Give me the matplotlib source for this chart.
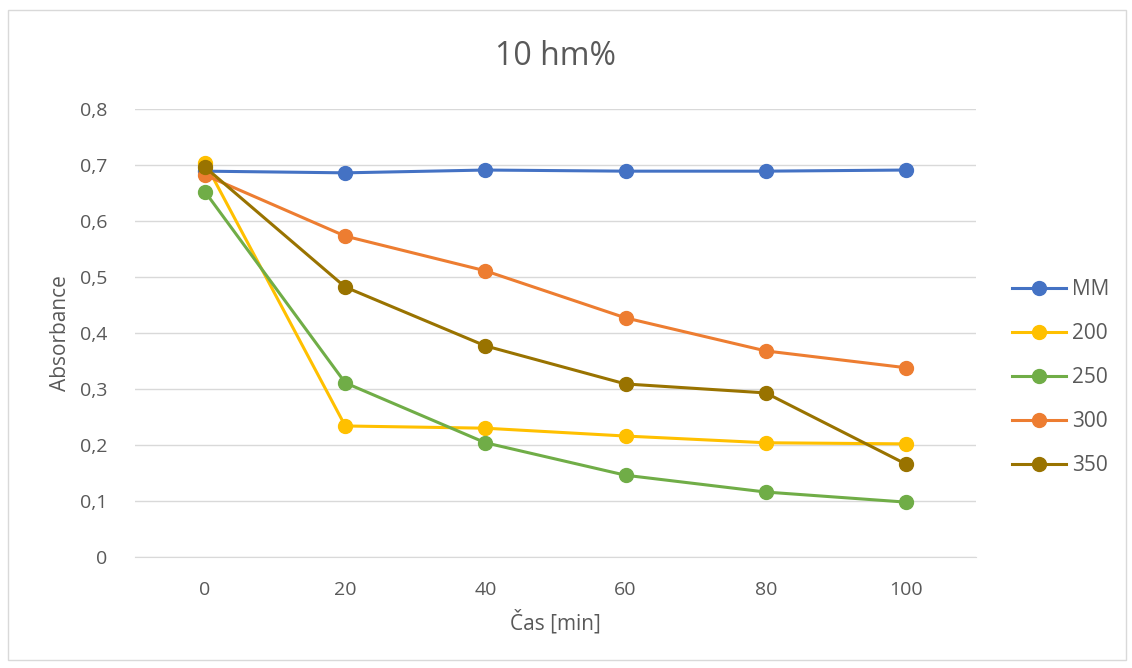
import matplotlib.pyplot as plt
from matplotlib.patches import Rectangle
from matplotlib.ticker import FuncFormatter

plt.rcParams['font.family'] = ['Open Sans', 'DejaVu Sans']

# Data
cas = ['0', '20', '40', '60', '80', '100']
mm = [0.689, 0.686, 0.691, 0.689, 0.689, 0.691]
s200 = [0.704, 0.234, 0.230, 0.216, 0.204, 0.202]
s250 = [0.652, 0.311, 0.204, 0.146, 0.116, 0.098]
s300 = [0.682, 0.573, 0.511, 0.427, 0.368, 0.338]
s350 = [0.696, 0.482, 0.377, 0.309, 0.293, 0.166]

series = [
    ('MM', mm, '#4472C4'),
    ('200', s200, '#FFC000'),
    ('250', s250, '#70AD47'),
    ('300', s300, '#ED7D31'),
    ('350', s350, '#997300'),
]

text_col = '#595959'

fig = plt.figure(figsize=(11.32, 6.68), dpi=100)
fig.patches.append(Rectangle((8 / 1132, 1 - 660 / 668), 1118 / 1132, 650 / 668,
                             transform=fig.transFigure, fill=False,
                             edgecolor='#D9D9D9', linewidth=1))

ax = fig.add_axes([135 / 1132, 1 - 557 / 668, 841 / 1132, 448 / 668])
x = list(range(len(cas)))
for nome, vals, cor in series:
    ax.plot(x, vals, color=cor, linewidth=2.2, marker='o', markersize=10, label=nome)

ax.set_xlim(-0.5, len(cas) - 0.5)
ax.set_ylim(0, 0.8)
ax.set_xticks(x)
ax.set_xticklabels(cas)
ax.set_yticks([i / 10 for i in range(9)])
ax.yaxis.set_major_formatter(FuncFormatter(lambda v, p: '0' if v == 0 else f'{v:.1f}'.replace('.', ',')))
ax.grid(axis='y', color='#D9D9D9', linewidth=1)
ax.set_axisbelow(True)
for s in ['top', 'right', 'left']:
    ax.spines[s].set_visible(False)
ax.spines['bottom'].set_color('#D9D9D9')
ax.tick_params(length=0, labelsize=14, colors=text_col)
ax.tick_params(axis='x', pad=17)
ax.tick_params(axis='y', pad=20)

ax.set_xlabel('Čas [min]', fontsize=15, color=text_col, labelpad=8)
ax.set_ylabel('Absorbance', fontsize=15, color=text_col, labelpad=6)
ax.set_title('10 hm%', fontsize=23, color=text_col, pad=32)

leg = ax.legend(loc='center left', bbox_to_anchor=(1.02, 0.40), frameon=False,
                fontsize=15, labelspacing=1.1, handlelength=2.6, handletextpad=0.3)
for t in leg.get_texts():
    t.set_color(text_col)

plt.savefig('out.png', dpi=100)
plt.close()
